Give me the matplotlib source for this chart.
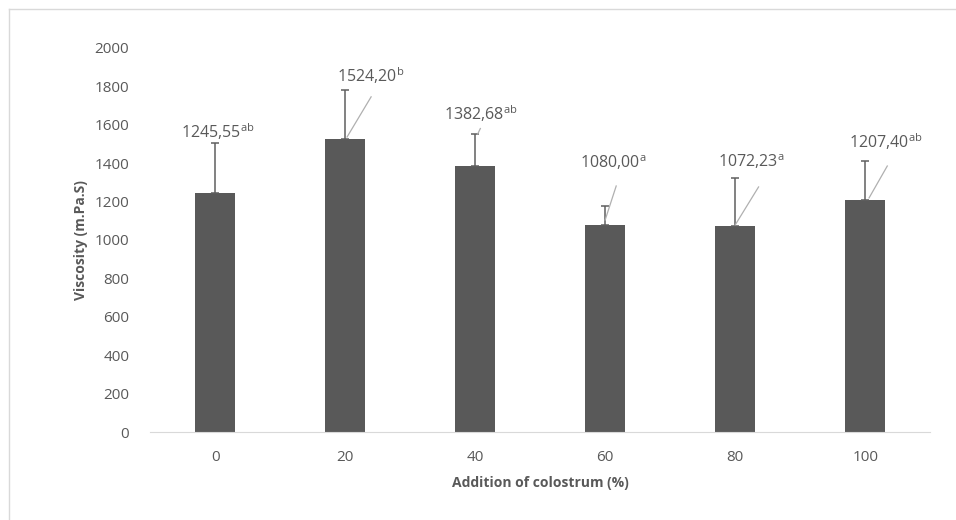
import matplotlib.pyplot as plt
from matplotlib.lines import Line2D

plt.rcParams['font.family'] = ['Open Sans', 'DejaVu Sans']
plt.rcParams['mathtext.default'] = 'regular'

# viscosity of the yoghurt by colostrum level
colostrum = ['0', '20', '40', '60', '80', '100']
viscosity = [1245.55, 1524.20, 1382.68, 1080.00, 1072.23, 1207.40]
sd = [260, 257, 170, 97, 251, 204]
letters = ['ab', 'b', 'ab', 'a', 'a', 'ab']

# label placement (x offset from bar, label height) and leader lines
label_dx = [0.02, 0.2, 0.04, 0.06, 0.12, 0.16]
label_y = [1565, 1855, 1655, 1400, 1405, 1510]
leader_x = [(0, 0), (0.015, 0.2), (0.02, 0.04), (0.0, 0.085), (0.0, 0.18), (0.03, 0.17)]
leader_y = [(0, 0), (1536, 1745), (1552, 1580), (1104, 1281), (1078, 1276), (1219, 1385)]

grey = '#595959'
fig = plt.figure(figsize=(9.56, 5.2), dpi=100)
ax = fig.add_axes([0.157, 0.169, 0.816, 0.739])

x = range(len(colostrum))
ax.bar(x, viscosity, width=0.31, color=grey, zorder=2)
ax.errorbar(x, viscosity, yerr=[[0] * len(sd), sd], fmt='none',
            ecolor='#5f5f5f', elinewidth=1.1, capsize=3.2, capthick=1.1, zorder=3)

for i, v in enumerate(viscosity):
    txt = f'{v:.2f}'.replace('.', ',') + '$^{' + letters[i] + '}$'
    ax.text(i + label_dx[i], label_y[i], txt, ha='center', va='center',
            fontsize=11.5, color=grey)
    if leader_x[i][0] != leader_x[i][1]:
        ax.plot([i + leader_x[i][0], i + leader_x[i][1]], leader_y[i],
                color='#b0b0b0', lw=0.9, zorder=4)

ax.set_xlim(-0.5, 5.5)
ax.set_ylim(0, 2000)
ax.set_yticks(range(0, 2001, 200))
ax.set_xticks(list(x))
ax.set_xticklabels(colostrum)
ax.tick_params(length=0, labelsize=11, labelcolor=grey, pad=13)
ax.tick_params(axis='y', pad=15)

for s in ['top', 'right', 'left']:
    ax.spines[s].set_visible(False)
ax.spines['bottom'].set_color('#d9d9d9')

ax.set_xlabel('Addition of colostrum (%)', fontsize=10, fontweight='bold',
              color=grey, labelpad=8)
ax.set_ylabel('Viscosity (m.Pa.S)', fontsize=10, fontweight='bold',
              color=grey, labelpad=5)

# outer chart frame
fig.add_artist(Line2D([9 / 956, 9 / 956], [0, 511 / 520], color='#d9d9d9', lw=1))
fig.add_artist(Line2D([9 / 956, 1], [511 / 520, 511 / 520], color='#d9d9d9', lw=1))

fig.savefig('out.png')
